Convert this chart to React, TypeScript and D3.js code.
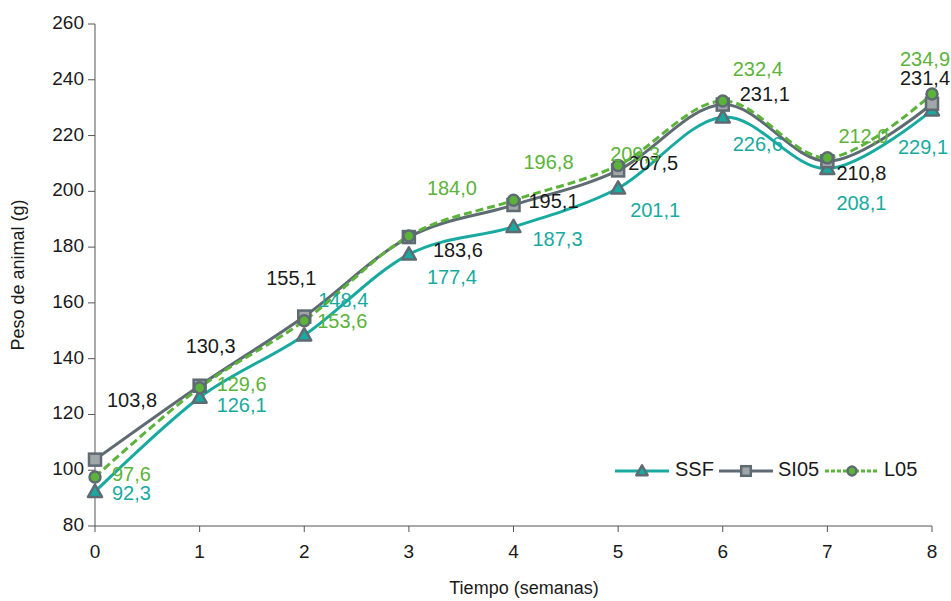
import * as d3 from "d3";

const weeks = [0, 1, 2, 3, 4, 5, 6, 7, 8];
const yTickValues = [80, 100, 120, 140, 160, 180, 200, 220, 240, 260];

const ssfValues = [92.3, 126.1, 148.4, 177.4, 187.3, 201.1, 226.6, 208.1, 229.1];
const si05Values = [103.8, 130.3, 155.1, 183.6, 195.1, 207.5, 231.1, 210.8, 231.4];
const l05Values = [97.6, 129.6, 153.6, 184.0, 196.8, 209.3, 232.4, 212.0, 234.9];

const seriesNames = ["SSF", "SI05", "L05"];

// label placement relative to each point: [dx to text start, dy to text middle]
const ssfLabelOffsets = [[17, 3], [17, 9], [14, -34], [18, 24], [19, 14], [12, 23], [10, 29], [9, 36], [-34, 39]];
const si05LabelOffsets = [[12, -58], [-14, -38], [-38, -37], [24, 15], [15, -2], [10, -6], [17, -9], [9, 14], [-32, -24]];
const l05LabelOffsets = [[17, -1], [17, -2], [13, 2], [18, -46], [10, -37], [-8, -10], [10, -30], [11, -20], [-32, -33]];

const TEAL = "#18aaa0";
const GRAY = "#5e6b73";
const GREEN = "#5cb33a";
const MARKER_STROKE = "#5e6b73";
const FONT = "'Liberation Sans', Arial, sans-serif";

const fmt = (v: number) => v.toFixed(1).replace(".", ",");

const width = 951;
const height = 601;
const margin = { left: 95, right: 19, top: 24, bottom: 75 };

function Marker({ kind, x, y, size = 1 }: { kind: string; x: number; y: number; size?: number }) {
  if (kind === "SSF") {
    const s = 7 * size;
    return (
      <path
        d={`M${x},${y - s} L${x + s},${y + s * 0.75} L${x - s},${y + s * 0.75} Z`}
        fill={TEAL}
        stroke={MARKER_STROKE}
        strokeWidth={2.5}
        strokeLinejoin="round"
      />
    );
  }
  if (kind === "SI05") {
    const h = 6 * size;
    return (
      <rect x={x - h} y={y - h} width={h * 2} height={h * 2} fill="#a3a6a8" stroke={MARKER_STROKE} strokeWidth={2.5} />
    );
  }
  return <circle cx={x} cy={y} r={5.5 * size} fill={GREEN} stroke={MARKER_STROKE} strokeWidth={2.5} />;
}

export default function App() {
  const x = d3.scaleLinear().domain([0, 8]).range([margin.left, width - margin.right]);
  const y = d3.scaleLinear().domain([80, 260]).range([height - margin.bottom, margin.top]);

  const line = d3
    .line<number>()
    .x((_, i) => x(weeks[i]))
    .y((d) => y(d))
    .curve(d3.curveCardinal.tension(0));

  const series = [
    { name: seriesNames[0], values: ssfValues, offsets: ssfLabelOffsets, color: TEAL, labelColor: TEAL, dash: undefined },
    { name: seriesNames[1], values: si05Values, offsets: si05LabelOffsets, color: GRAY, labelColor: "#1a1a1a", dash: undefined },
    { name: seriesNames[2], values: l05Values, offsets: l05LabelOffsets, color: GREEN, labelColor: GREEN, dash: "8,4" },
  ];

  const axisColor = "#555";
  const y0 = y(80);

  const legendItems = [
    { s: series[0], lx: 615, tx: 675 },
    { s: series[1], lx: 719, tx: 778 },
    { s: series[2], lx: 825, tx: 884 },
  ];
  const legendY = 471;

  return (
    <svg
      width={width}
      height={height}
      style={{ position: "absolute", left: 0, top: 0, background: "#fff" }}
      fontFamily={FONT}
    >
      {/* Y axis */}
      <line x1={x(0)} x2={x(0)} y1={y(260)} y2={y0} stroke={axisColor} strokeWidth={1} />
      {yTickValues.map((v) => (
        <g key={v} transform={`translate(0, ${y(v)})`}>
          <line x1={x(0) - 7} x2={x(0)} stroke={axisColor} />
          <text x={x(0) - 11} textAnchor="end" dominantBaseline="middle" fontSize={19} fill="#1a1a1a">
            {v}
          </text>
        </g>
      ))}
      <text
        transform={`translate(19, ${(y(260) + y0) / 2}) rotate(-90)`}
        textAnchor="middle"
        dominantBaseline="middle"
        fontSize={18}
        fill="#1a1a1a"
      >
        Peso de animal (g)
      </text>

      {/* X axis */}
      <line x1={x(0)} x2={x(8)} y1={y0} y2={y0} stroke={axisColor} strokeWidth={1.2} />
      {weeks.map((w) => (
        <g key={w} transform={`translate(${x(w)}, ${y0})`}>
          <line y1={0} y2={6} stroke={axisColor} />
          <text y={27} textAnchor="middle" dominantBaseline="middle" fontSize={19} fill="#1a1a1a">
            {w}
          </text>
        </g>
      ))}
      <text x={524} y={589} textAnchor="middle" dominantBaseline="middle" fontSize={18} fill="#1a1a1a">
        Tiempo (semanas)
      </text>

      {/* Lines */}
      {series.map((s) => (
        <path
          key={s.name}
          d={line(s.values) || ""}
          fill="none"
          stroke={s.color}
          strokeWidth={3}
          strokeDasharray={s.dash}
        />
      ))}

      {/* Markers */}
      {series.map((s) => (
        <g key={s.name}>
          {s.values.map((v, i) => (
            <Marker key={i} kind={s.name} x={x(weeks[i])} y={y(v)} />
          ))}
        </g>
      ))}

      {/* Data labels */}
      {series.map((s) => (
        <g key={s.name}>
          {s.values.map((v, i) => (
            <text
              key={i}
              x={x(weeks[i]) + s.offsets[i][0]}
              y={y(v) + s.offsets[i][1]}
              dominantBaseline="middle"
              fontSize={20}
              fill={s.labelColor}
            >
              {fmt(v)}
            </text>
          ))}
        </g>
      ))}

      {/* Legend */}
      {legendItems.map(({ s, lx, tx }) => (
        <g key={s.name}>
          <line
            x1={lx}
            x2={lx + 54}
            y1={legendY}
            y2={legendY}
            stroke={s.color}
            strokeWidth={3}
            strokeDasharray={s.dash ? "4,2" : undefined}
          />
          <Marker kind={s.name} x={lx + 27} y={legendY} size={0.8} />
          <text x={tx} y={legendY} dominantBaseline="middle" fontSize={20} fill="#1a1a1a">
            {s.name}
          </text>
        </g>
      ))}
    </svg>
  );
}
